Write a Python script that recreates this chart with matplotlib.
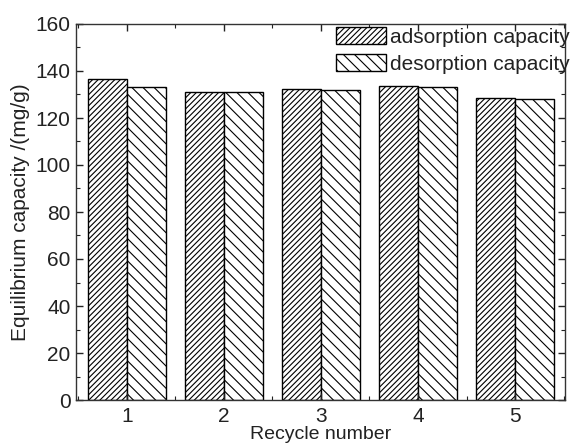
import matplotlib
matplotlib.use("Agg")
import matplotlib.pyplot as plt
import numpy as np
from matplotlib.ticker import MultipleLocator

cycles = [1, 2, 3, 4, 5]
adsorption = [136.5, 131.0, 132.5, 133.5, 128.3]
desorption = [133.0, 131.0, 132.0, 133.0, 128.0]
labels = ["adsorption capacity", "desorption capacity"]

plt.rcParams['font.family'] = ['Liberation Sans', 'DejaVu Sans']
plt.rcParams['hatch.linewidth'] = 0.8
plt.rcParams['hatch.color'] = '#333333'

fig = plt.figure(figsize=(5.73, 4.44), dpi=100)
ax = fig.add_axes([76/573, 1-400/444, (565-76)/573, (400-24)/444])

x = np.array(cycles, dtype=float)
w = 0.4
ax.bar(x - 0.2, adsorption, width=w, facecolor='white', edgecolor='black',
       linewidth=1.0, hatch='//////', label=labels[0])
ax.bar(x + 0.2, desorption, width=w, facecolor='white', edgecolor='black',
       linewidth=1.0, hatch='\\\\\\', label=labels[1])

ax.set_xlim(0.475, 5.515)
ax.set_ylim(0, 160)
ax.set_xticks(cycles)
ax.set_yticks(np.arange(0, 161, 20))
ax.xaxis.set_minor_locator(MultipleLocator(0.5))
ax.yaxis.set_minor_locator(MultipleLocator(10))
ax.tick_params(which='both', direction='in', top=True, right=True, labelsize=15, colors='#222222')
ax.tick_params(which='major', length=5, width=1)
ax.tick_params(which='minor', length=3, width=0.8)
ax.tick_params(axis='x', pad=5)
ax.tick_params(axis='y', pad=4)
for s in ax.spines.values():
    s.set_linewidth(1.0)
    s.set_color('#333333')

ax.set_xlabel("Recycle number", fontsize=14, labelpad=0, color='#222222')
ax.set_ylabel("Equilibrium capacity /(mg/g)", fontsize=15, labelpad=4, color='#222222')

leg = ax.legend(loc='upper left', bbox_to_anchor=((333-76)/(565-76), 1.0), frameon=False,
                fontsize=15, handlelength=2.4, handleheight=0.87, handletextpad=0.2,
                labelspacing=0.35, borderaxespad=0.1, borderpad=0.05)
for t in leg.get_texts():
    t.set_color('#222222')

fig.savefig("out.png", dpi=100)
